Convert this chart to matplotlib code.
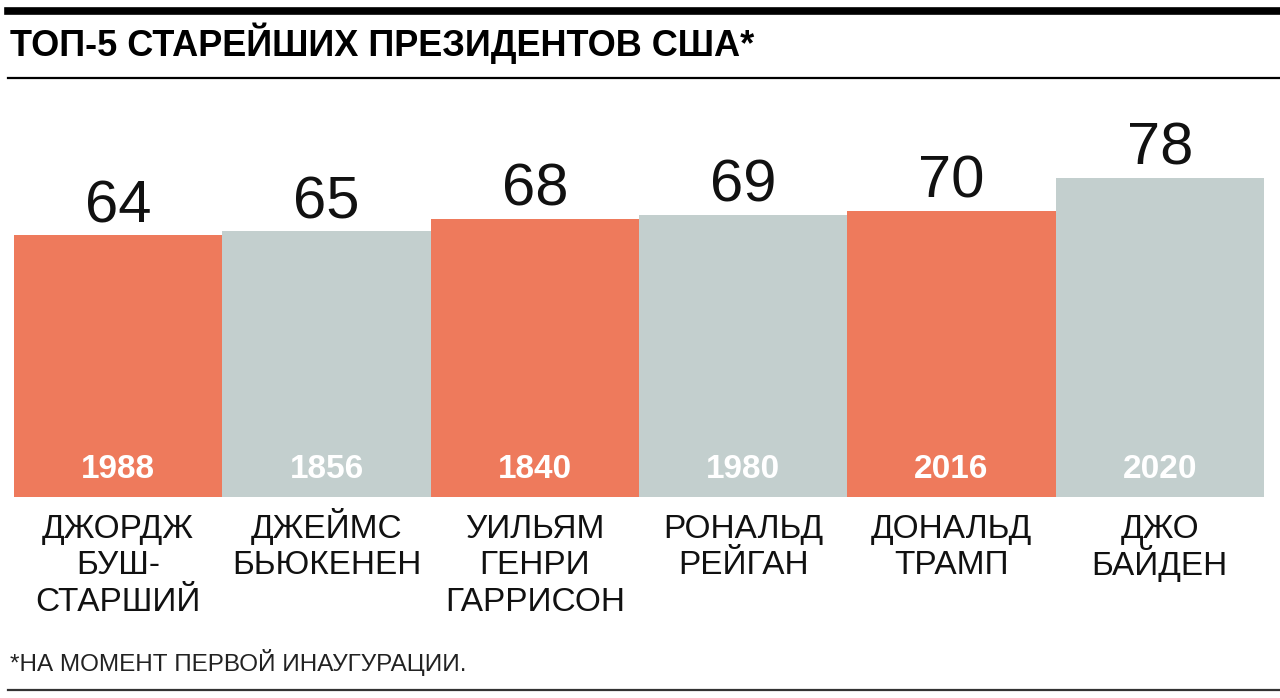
import matplotlib.pyplot as plt
from matplotlib.lines import Line2D
from matplotlib import transforms

names = [["ДЖОРДЖ", "БУШ-", "СТАРШИЙ"], ["ДЖЕЙМС", "БЬЮКЕНЕН"], ["УИЛЬЯМ", "ГЕНРИ", "ГАРРИСОН"],
         ["РОНАЛЬД", "РЕЙГАН"], ["ДОНАЛЬД", "ТРАМП"], ["ДЖО", "БАЙДЕН"]]
ages = [64, 65, 68, 69, 70, 78]
years = ["1988", "1856", "1840", "1980", "2016", "2020"]

orange = "#ee7a5c"
grey = "#c3cfce"
colors = [orange, grey, orange, grey, orange, grey]

font = ["Liberation Sans", "DejaVu Sans"]

W, H = 1280, 698
fig = plt.figure(figsize=(W / 100, H / 100), dpi=100)

# bars: bottom at y=497px, 4.09 px per year
ax = fig.add_axes([14 / W, 201 / H, 1250 / W, 400 / H])
ax.bar(range(len(ages)), ages, width=1.0, color=colors)
ax.set_xlim(-0.5, 5.5)
ax.set_ylim(0, 400 / 4.09)
ax.axis("off")

def shifted(dy):
    return transforms.offset_copy(ax.transData, fig=fig, x=0, y=dy, units="dots")

for i, (age, year, name) in enumerate(zip(ages, years, names)):
    ax.text(i, age, str(age), transform=shifted(13), ha="center", va="baseline",
            fontsize=43, family=font, color="#111111")
    ax.text(i, 0, year, transform=shifted(19), ha="center", va="baseline",
            fontsize=24, family=font, fontweight="bold", color="white")
    for k, line in enumerate(name):
        ax.text(i, 0, line, transform=shifted(-41 - 36.5 * k), ha="center", va="baseline",
                clip_on=False, fontsize=24, family=font, color="#111111")

# header / footer
fig.add_artist(Line2D([8 / W, 1], [1 - 10.5 / H] * 2, color="black", lw=5.5))
fig.add_artist(Line2D([8 / W, 1], [1 - 78 / H] * 2, color="black", lw=1.6))
fig.add_artist(Line2D([8 / W, 1], [1 - 690 / H] * 2, color="#333333", lw=1.6))

fig.text(10 / W, 1 - 56 / H, "ТОП-5 СТАРЕЙШИХ ПРЕЗИДЕНТОВ США*", ha="left", va="baseline",
         fontsize=26, family=font, fontweight="bold", color="black")
fig.text(10 / W, 1 - 671 / H, "*НА МОМЕНТ ПЕРВОЙ ИНАУГУРАЦИИ.", ha="left", va="baseline",
         fontsize=17.5, family=font, color="#222222")

fig.savefig("out.png", dpi=100)
